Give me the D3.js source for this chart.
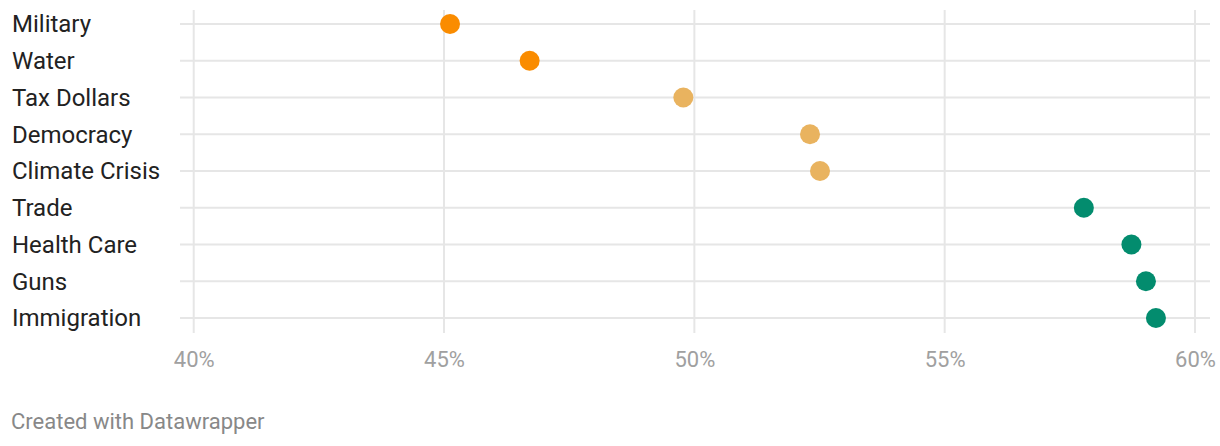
<!DOCTYPE html>
<html><head><meta charset="utf-8">
<script src="https://cdn.jsdelivr.net/npm/d3@7"></script>
<style>body{margin:0;background:#fff;font-family:Roboto,sans-serif;}</style>
</head><body><svg id="c" width="1220" height="446"></svg>
<script>
const categories = ["Military","Water","Tax Dollars","Democracy","Climate Crisis","Trade","Health Care","Guns","Immigration"];
const values = [45.12,46.71,49.78,52.31,52.51,57.78,58.73,59.02,59.22];
const groups = ["low","low","mid","mid","mid","high","high","high","high"];
const tickValues = [40,45,50,55,60];
const groupColors = {low:"#fa8c00", mid:"#e9b35f", high:"#038c6e"};

const svg = d3.select("#c");
const x = d3.scaleLinear().domain([40,60]).range([193.7,1195]);
const y = d3.scalePoint().domain(categories).range([24,318]);

// vertical grid
svg.append("g").selectAll("line").data(tickValues).join("line")
  .attr("x1",d=>x(d)).attr("x2",d=>x(d)).attr("y1",10).attr("y2",333)
  .attr("stroke","#e6e6e6").attr("stroke-width",2);
// horizontal grid
svg.append("g").selectAll("line").data(categories).join("line")
  .attr("x1",180).attr("x2",1210).attr("y1",d=>y(d)).attr("y2",d=>y(d))
  .attr("stroke","#e6e6e6").attr("stroke-width",2);

// axis tick labels
const xAxis = d3.axisBottom(x).tickValues(tickValues).tickFormat(d=>d+"%").tickSize(0).tickPadding(0);
const ax = svg.append("g").attr("transform","translate(0,351)").call(xAxis);
ax.select(".domain").remove();
ax.selectAll("text").attr("fill","#a0a0a0").style("font-family","Roboto").style("font-size","22px").attr("dy","0.71em");

// category labels
svg.append("g").selectAll("text").data(categories).join("text")
  .attr("x",12).attr("y",d=>y(d)).attr("dy","0.35em")
  .attr("fill","#222").style("font-size","24px").text(d=>d);

// dots
svg.append("g").selectAll("circle").data(categories).join("circle")
  .attr("cx",(d,i)=>x(values[i])).attr("cy",d=>y(d)).attr("r",10)
  .attr("fill",(d,i)=>groupColors[groups[i]]);

svg.append("text").attr("x",11).attr("y",429).attr("fill","#888")
  .style("font-size","22px").text("Created with Datawrapper");
</script></body></html>
